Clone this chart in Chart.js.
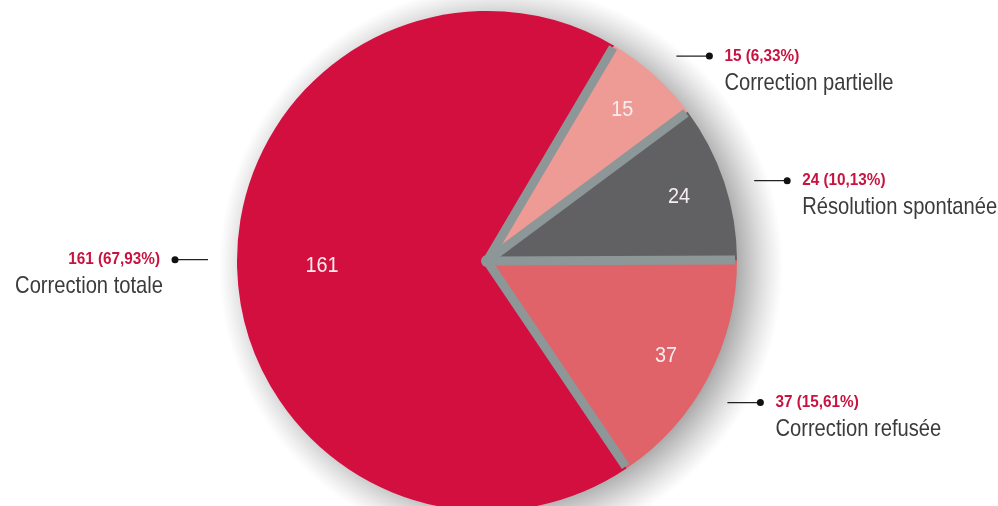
<!DOCTYPE html>
<html>
<head>
<meta charset="utf-8">
<script src="https://cdn.jsdelivr.net/npm/chart.js@4/dist/chart.umd.min.js"></script>
<style>
  html, body { margin: 0; padding: 0; background: #fff; }
</style>
</head>
<body>
<canvas id="pieChart" width="998" height="506"></canvas>
<script>
// data
const categories = ["Correction totale", "Correction partielle", "Résolution spontanée", "Correction refusée"];
const counts = [161, 15, 24, 37];
const sliceColors = ["#d30f3f", "#ee9b95", "#616163", "#e1636a"];

const FONT = "'Liberation Sans', Arial, sans-serif";
const GAP_COLOR = "#8d9798";
const VALUE_COLOR = "#c8123f";
const NAME_COLOR = "#3b3b3b";
// where the number sits inside each slice, as a share of the radius
const insideLabelPos = [0.66, 0.81, 0.81, 0.81];
// small angle tweak (deg) for the callout anchors
const calloutShift = [2, 0.8, 1.7, 2.6];

const total = counts.reduce((a, b) => a + b, 0);
const percent = counts.map(v => (v / total * 100).toFixed(2).replace(".", ","));

// the original uses a condensed face, so squeeze a normal one
function narrowText(ctx, text, x, y, align, squeeze) {
    ctx.save();
    ctx.translate(x, y);
    ctx.scale(squeeze, 1);
    ctx.textAlign = align;
    ctx.fillText(text, 0, 0);
    ctx.restore();
}

const piePlugin = {
    id: "pieDecor",
    beforeDatasetsDraw(chart) {
        const ctx = chart.ctx;
        const arcs = chart.getDatasetMeta(0).data;
        const cx = arcs[0].x, cy = arcs[0].y, R = arcs[0].outerRadius;
        // soft drop shadow, light from upper left
        ctx.save();
        const sx = cx + 14, sy = cy + 6;
        const g = ctx.createRadialGradient(sx, sy, R - 25, sx, sy, R + 32);
        g.addColorStop(0, "rgba(60, 60, 60, 0.55)");
        g.addColorStop(0.45, "rgba(80, 80, 80, 0.3)");
        g.addColorStop(1, "rgba(120, 120, 120, 0)");
        ctx.fillStyle = g;
        ctx.beginPath();
        ctx.arc(sx, sy, R + 32, 0, Math.PI * 2);
        ctx.fill();
        // gray base that shows through between the slices
        ctx.fillStyle = GAP_COLOR;
        ctx.beginPath();
        ctx.arc(cx, cy, R - 3, 0, Math.PI * 2);
        ctx.fill();
        ctx.restore();
    },
    afterDatasetsDraw(chart) {
        const ctx = chart.ctx;
        const arcs = chart.getDatasetMeta(0).data;
        const cx = arcs[0].x, cy = arcs[0].y;

        // gray gaps between the slices
        ctx.save();
        ctx.strokeStyle = GAP_COLOR;
        ctx.lineWidth = 9;
        ctx.lineCap = "butt";
        arcs.forEach(arc => {
            const r = arc.outerRadius - 2;
            ctx.beginPath();
            ctx.moveTo(cx, cy);
            ctx.lineTo(cx + Math.cos(arc.startAngle) * r, cy + Math.sin(arc.startAngle) * r);
            ctx.stroke();
        });
        ctx.fillStyle = GAP_COLOR;
        ctx.beginPath();
        ctx.arc(cx, cy, 6, 0, Math.PI * 2);
        ctx.fill();
        ctx.restore();

        // numbers inside slices
        ctx.save();
        ctx.fillStyle = "#f6eeee";
        ctx.font = "22px " + FONT;
        ctx.textBaseline = "middle";
        arcs.forEach((arc, i) => {
            const mid = (arc.startAngle + arc.endAngle) / 2;
            const r = arc.outerRadius * insideLabelPos[i];
            narrowText(ctx, String(counts[i]), cx + Math.cos(mid) * r, cy + Math.sin(mid) * r, "center", 0.9);
        });
        ctx.restore();

        // callouts
        ctx.save();
        arcs.forEach((arc, i) => {
            const mid = (arc.startAngle + arc.endAngle) / 2 + calloutShift[i] * Math.PI / 180;
            const r = arc.outerRadius + 29;
            const ax = cx + Math.cos(mid) * r;
            const ay = cy + Math.sin(mid) * r;
            const side = Math.cos(mid) < 0 ? -1 : 1;
            const dx = ax + side * 33;
            ctx.strokeStyle = "#222";
            ctx.lineWidth = 1.3;
            ctx.beginPath();
            ctx.moveTo(ax, ay);
            ctx.lineTo(dx, ay);
            ctx.stroke();
            ctx.fillStyle = "#111";
            ctx.beginPath();
            ctx.arc(dx, ay, 3.5, 0, Math.PI * 2);
            ctx.fill();

            const tx = dx + side * 15;
            const align = side < 0 ? "right" : "left";
            ctx.textBaseline = "middle";
            ctx.fillStyle = VALUE_COLOR;
            ctx.font = "bold 17px " + FONT;
            narrowText(ctx, counts[i] + " (" + percent[i] + "%)", tx, ay, align, 0.9);
            ctx.fillStyle = NAME_COLOR;
            ctx.font = "24px " + FONT;
            narrowText(ctx, categories[i], tx + (side < 0 ? 3 : 0), ay + 27, align, 0.84);
        });
        ctx.restore();
    }
};

new Chart(document.getElementById("pieChart"), {
    type: "pie",
    data: {
        labels: categories,
        datasets: [{
            data: counts,
            backgroundColor: sliceColors,
            borderWidth: 0
        }]
    },
    options: {
        responsive: false,
        animation: false,
        radius: 250,
        rotation: 146,
        layout: { padding: { top: 16, right: 24, left: 0, bottom: 0 } },
        plugins: {
            legend: { display: false },
            tooltip: { enabled: false }
        }
    },
    plugins: [piePlugin]
});
</script>
</body>
</html>
